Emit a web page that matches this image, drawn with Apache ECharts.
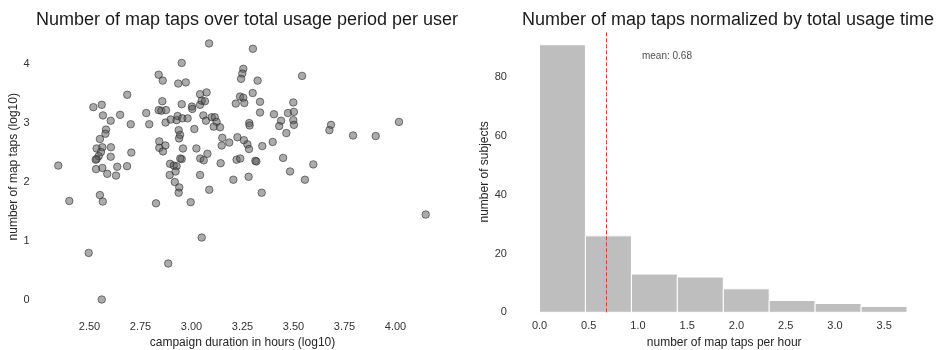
<!DOCTYPE html>
<html><head><meta charset="utf-8">
<script src="https://cdn.jsdelivr.net/npm/echarts@6/dist/echarts.min.js"></script>
<style>html,body{margin:0;padding:0;background:#fff}#c{width:944px;height:350px}</style>
</head><body><div id="c"></div>
<script>
// campaign duration in hours (log10) per user
const durationLog = [3.086,2.952,2.839,2.859,2.935,2.972,2.685,2.519,2.560,2.566,2.650,2.604,2.702,2.581,2.578,2.551,2.535,2.563,2.605,2.556,2.545,2.535,2.604,2.705,2.347,2.532,2.563,2.636,2.684,2.587,2.630,2.778,2.793,2.839,2.852,2.857,2.875,2.873,2.898,2.927,2.932,2.955,2.981,2.952,3.002,3.004,3.042,3.042,3.074,3.050,3.066,3.058,3.071,3.099,3.114,3.123,3.109,3.140,3.217,2.937,2.944,2.939,3.014,2.842,2.842,2.872,2.860,2.958,3.024,3.078,3.043,3.060,2.952,2.945,3.151,3.148,3.185,3.225,3.143,2.895,2.913,2.927,3.042,2.893,2.922,3.205,2.401,2.551,2.565,2.826,2.918,2.940,2.937,2.996,3.087,2.496,3.050,2.886,2.560,3.280,3.344,3.483,3.556,4.148,3.301,3.254,3.249,3.243,3.324,3.542,3.300,3.238,3.254,3.259,3.336,3.499,3.336,3.404,3.473,3.502,3.439,3.499,3.502,3.430,3.283,3.285,3.465,3.684,3.676,3.792,3.903,4.017,3.257,3.274,3.282,3.347,3.398,3.449,3.313,3.318,3.221,3.239,3.597,2.530];
// number of map taps (log10) per user
const tapsLog = [4.34,4.01,3.81,3.71,3.66,3.68,3.47,3.26,3.30,3.12,3.13,3.03,2.97,2.88,2.81,2.72,2.56,2.58,2.58,2.50,2.43,2.38,2.42,2.49,2.27,2.21,2.23,2.25,2.26,2.13,2.10,3.16,2.97,3.21,3.20,3.36,3.21,3.00,3.05,3.04,3.11,3.07,3.07,3.31,3.27,3.23,3.30,3.48,3.51,3.37,3.36,3.12,3.03,3.09,3.09,3.01,2.93,2.92,3.32,2.87,2.79,2.73,2.89,2.68,2.57,2.61,2.51,2.56,2.56,2.47,2.39,2.36,2.38,2.39,2.74,2.61,2.66,2.75,2.31,2.30,2.27,2.26,2.11,2.11,2.17,2.03,1.67,1.77,1.66,1.63,1.99,1.90,1.81,1.65,1.86,0.79,1.05,0.61,0.00,2.08,1.81,2.17,2.03,1.44,4.25,3.91,3.83,3.74,3.71,3.79,3.50,3.44,3.42,3.33,3.35,3.34,3.17,3.14,3.16,3.18,3.03,3.04,2.96,2.94,2.99,2.95,2.82,2.96,2.87,2.78,2.77,3.01,2.70,2.63,2.55,2.60,2.67,2.40,2.35,2.34,2.37,2.39,2.29,2.37];
// histogram of map taps per hour
const binEdges = [0, 0.466, 0.933, 1.399, 1.866, 2.332, 2.798, 3.265, 3.731];
const binCounts = [91, 26, 13, 12, 8, 4, 3, 2];
const meanRate = 0.68;
const meanLabel = 'mean: 0.68';
const meanLabelPos = [1.04, 87];

const leftTitle = 'Number of map taps over total usage period per user';
const rightTitle = 'Number of map taps normalized by total usage time';

const FONT = '"Liberation Sans", Arial, sans-serif';
const chart = echarts.init(document.getElementById('c'), null, {renderer: 'canvas'});

function onStep(v, step) { return Math.abs(v / step - Math.round(v / step)) < 1e-6; }

const scatterData = durationLog.map((x, i) => [x, tapsLog[i]]);
const histData = binCounts.map((c, i) => [binEdges[i], binEdges[i + 1], c]);

const axisCommon = {
  axisLine: {show: false}, axisTick: {show: false}, splitLine: {show: false},
  nameTextStyle: {color: '#262626', fontSize: 12, fontFamily: FONT},
};
const labelCommon = {color: '#333', fontSize: 11, fontFamily: FONT, showMinLabel: true, showMaxLabel: true, hideOverlap: false};

chart.setOption({
  animation: false,
  backgroundColor: '#ffffff',
  title: [
    {text: leftTitle, left: 242, top: 6, textAlign: 'center',
     textStyle: {fontSize: 18, fontWeight: 'normal', color: '#1a1a1a', fontFamily: FONT}},
    {text: rightTitle, left: 723, top: 6, textAlign: 'center',
     textStyle: {fontSize: 18, fontWeight: 'normal', color: '#1a1a1a', fontFamily: FONT}}
  ],
  grid: [
    {left: 38.5, right: 497.5, top: 19.25, bottom: 35.75, containLabel: false, outerBoundsMode: 'none'},
    {left: 514.9, right: 10.5, top: 31.4, bottom: 37.7, containLabel: false, outerBoundsMode: 'none'}
  ],
  xAxis: [
    Object.assign({}, axisCommon, {
      gridIndex: 0, type: 'value', min: 2.25, max: 4.25, interval: 0.25,
      name: 'campaign duration in hours (log10)', nameLocation: 'middle', nameGap: 22,
      axisLabel: Object.assign({}, labelCommon, {margin: 7,
        formatter: v => (v > 2.3 && v < 4.1) ? v.toFixed(2) : ''})
    }),
    Object.assign({}, axisCommon, {
      gridIndex: 1, type: 'value', min: -0.25, max: 4.0, interval: 0.25,
      name: 'number of map taps per hour', nameLocation: 'middle', nameGap: 24,
      axisLabel: Object.assign({}, labelCommon, {margin: 8,
        formatter: v => (onStep(v, 0.5) && v > -0.1 && v < 3.6) ? v.toFixed(1) : ''})
    })
  ],
  yAxis: [
    Object.assign({}, axisCommon, {
      gridIndex: 0, type: 'value', min: -0.25, max: 4.75, interval: 0.25,
      name: 'number of map taps (log10)', nameLocation: 'middle', nameGap: 19,
      axisLabel: Object.assign({}, labelCommon, {margin: 9,
        formatter: v => (onStep(v, 1) && v > -0.1 && v < 4.1) ? String(Math.round(v)) : ''})
    }),
    Object.assign({}, axisCommon, {
      gridIndex: 1, type: 'value', min: 0, max: 95.55, interval: 20,
      name: 'number of subjects', nameLocation: 'middle', nameGap: 16,
      axisLabel: Object.assign({}, labelCommon, {margin: 8,
        formatter: v => (onStep(v, 20) && v < 90) ? String(Math.round(v)) : ''})
    })
  ],
  series: [
    {
      type: 'scatter', xAxisIndex: 0, yAxisIndex: 0, data: scatterData,
      symbolSize: 7.5,
      itemStyle: {color: 'rgba(85,85,85,0.62)', borderColor: 'rgba(30,30,30,0.85)', borderWidth: 0.8}
    },
    {
      type: 'custom', xAxisIndex: 1, yAxisIndex: 1, data: histData,
      encode: {x: [0, 1], y: 2},
      renderItem: function (params, api) {
        const p0 = api.coord([api.value(0), api.value(2)]);
        const p1 = api.coord([api.value(1), 0]);
        return {type: 'rect', shape: {x: p0[0], y: p0[1], width: p1[0] - p0[0], height: p1[1] - p0[1]},
          style: {fill: '#bebebe', stroke: '#ffffff', lineWidth: 1}};
      },
      markLine: {
        silent: true, symbol: 'none', label: {show: false},
        lineStyle: {color: '#d43f3a', type: [4, 2], width: 1},
        data: [{xAxis: meanRate}]
      }
    },
    {
      type: 'scatter', xAxisIndex: 1, yAxisIndex: 1, data: [meanLabelPos], symbolSize: 0,
      label: {show: true, position: 'inside', align: 'left', verticalAlign: 'middle',
        formatter: meanLabel, color: '#1a1a1a', fontSize: 10, fontFamily: FONT}
    }
  ]
});
</script>
</body></html>
